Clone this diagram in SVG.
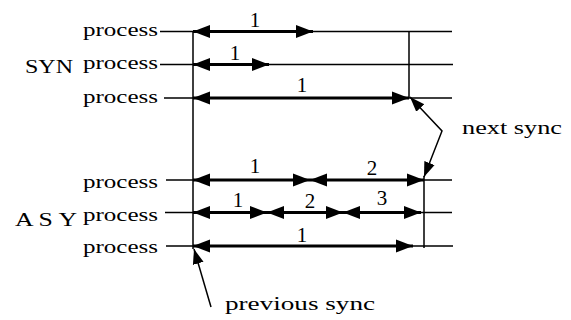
<svg xmlns="http://www.w3.org/2000/svg" width="571" height="320" viewBox="0 0 571 320">
<defs>
<marker id="ah" markerUnits="userSpaceOnUse" markerWidth="18" markerHeight="14" refX="17" refY="7" orient="auto-start-reverse"><path d="M0,0.5 L17,7 L0,13.5 z" fill="#000"/></marker>
<marker id="sh" markerUnits="userSpaceOnUse" markerWidth="15" markerHeight="13" refX="15" refY="6.5" orient="auto-start-reverse"><path d="M0,1 L15,6.5 L0,12 z" fill="#000"/></marker>
<style>
text{font-family:"Liberation Serif","Times New Roman",serif;fill:#000}
.t{font-size:19px}
.d{font-size:21px}
.thin{stroke:#000;stroke-width:1.5;fill:none}
.thick{stroke:#000;stroke-width:3;fill:none;marker-start:url(#ah);marker-end:url(#ah)}
.call{stroke:#000;stroke-width:1.5;fill:none}
</style>
</defs>
<rect width="571" height="320" fill="#fff"/>
<g id="labels">
<text class="t" x="83" y="36" textLength="75" lengthAdjust="spacingAndGlyphs">process</text>
<text class="t" x="25" y="73" font-size="22" textLength="48" lengthAdjust="spacingAndGlyphs">SYN</text>
<text class="t" x="83" y="69" textLength="75" lengthAdjust="spacingAndGlyphs">process</text>
<text class="t" x="83" y="103" textLength="75" lengthAdjust="spacingAndGlyphs">process</text>
<text class="t" x="83" y="188" textLength="75" lengthAdjust="spacingAndGlyphs">process</text>
<text class="t" x="15" y="226" font-size="24" textLength="62" lengthAdjust="spacingAndGlyphs">A S Y</text>
<text class="t" x="83" y="221" textLength="75" lengthAdjust="spacingAndGlyphs">process</text>
<text class="t" x="83" y="253" textLength="75" lengthAdjust="spacingAndGlyphs">process</text>
</g>
<g id="connectors">
<path class="thin" d="M160,31.5 H193 M160,64.5 H193 M164,98 H193 M166,180 H193 M165,212.5 H193 M166,246 H193"/>
<path class="thin" d="M313,31.5 H452 M269,64.5 H453 M409,98 H452 M424,180 H452 M421,212.5 H452 M413,246 H424 M424,246 H453"/>
<path class="thin" d="M193,31 V249 M409,31 V98 M424,176 V248"/>
<line class="thick" x1="193" y1="31.5" x2="313" y2="31.5"/>
<line class="thick" x1="193" y1="64.5" x2="269" y2="64.5"/>
<line class="thick" x1="193" y1="98" x2="409" y2="98"/>
<line class="thick" x1="193" y1="180" x2="310" y2="180"/>
<line class="thick" x1="310" y1="180" x2="424" y2="180"/>
<line class="thick" x1="193" y1="212.5" x2="267" y2="212.5"/>
<line class="thick" x1="267" y1="212.5" x2="343" y2="212.5"/>
<line class="thick" x1="343" y1="212.5" x2="421" y2="212.5"/>
<line class="thick" x1="193" y1="246" x2="413" y2="246"/>
<polyline class="call" points="410,97 442,131 424,177" marker-start="url(#sh)" marker-end="url(#sh)"/>
<line class="call" x1="211" y1="307" x2="194" y2="249" marker-end="url(#sh)"/>
</g>
<g id="numbers">
<text class="d" x="255" y="27" text-anchor="middle">1</text>
<text class="d" x="235" y="60" text-anchor="middle">1</text>
<text class="d" x="302" y="92" text-anchor="middle">1</text>
<text class="d" x="255" y="173" text-anchor="middle">1</text>
<text class="d" x="372" y="175" text-anchor="middle">2</text>
<text class="d" x="238" y="207" text-anchor="middle">1</text>
<text class="d" x="310" y="208" text-anchor="middle">2</text>
<text class="d" x="382" y="205" text-anchor="middle">3</text>
<text class="d" x="302" y="242" text-anchor="middle">1</text>
</g>
<g id="notes">
<text class="t" x="462" y="134" textLength="100" lengthAdjust="spacingAndGlyphs">next  sync</text>
<text class="t" x="225" y="310" textLength="150" lengthAdjust="spacingAndGlyphs">previous  sync</text>
</g>
</svg>
